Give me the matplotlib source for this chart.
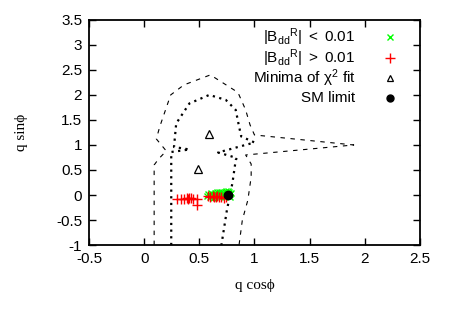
import numpy as np
import matplotlib
matplotlib.use('Agg')
import matplotlib.pyplot as plt

plt.rcParams['font.family'] = ['Liberation Sans', 'DejaVu Sans']
plt.rcParams['mathtext.fontset'] = 'custom'
plt.rcParams['mathtext.rm'] = 'Liberation Sans'
plt.rcParams['mathtext.it'] = 'Liberation Sans'
plt.rcParams['mathtext.default'] = 'regular'

### data
# outer contour (dashed)
outer_x = [0.09, 0.09, 0.13, 0.20, 0.11, 0.14, 0.24, 0.36, 0.60, 0.85, 0.92, 0.96, 1.00, 1.90,
           0.92, 0.97, 0.97, 0.94, 0.89, 0.86]
outer_y = [-1.0, 0.60, 0.72, 0.88, 1.12, 1.36, 2.00, 2.20, 2.40, 2.05, 1.70, 1.40, 1.20, 1.00,
           0.80, 0.62, 0.36, -0.10, -0.50, -1.0]
# inner contour (dotted)
inner_x = [0.245, 0.245, 0.41, 0.27, 0.29, 0.41, 0.59, 0.74, 0.83, 0.86, 0.88, 1.00,
           0.67, 0.84, 0.83, 0.80, 0.75, 0.70]
inner_y = [-1.0, 0.86, 0.91, 0.96, 1.43, 1.83, 2.00, 1.90, 1.70, 1.37, 1.17, 1.05,
           0.85, 0.74, 0.70, 0.24, -0.30, -1.0]

# |B_dd^R| < 0.01
small_x = [0.57, 0.58, 0.60, 0.61, 0.62, 0.63, 0.64, 0.65, 0.66, 0.67, 0.68, 0.69, 0.70,
           0.71, 0.72, 0.73, 0.74, 0.75, 0.76, 0.77, 0.78, 0.79, 0.62, 0.66, 0.70, 0.74, 0.78,
           0.64, 0.68, 0.72, 0.76]
small_y = [-0.01, 0.02, -0.03, 0.04, 0.01, -0.04, 0.05, 0.00, 0.03, -0.02, 0.06, 0.02, -0.03,
           0.04, 0.01, 0.06, -0.02, 0.05, 0.03, 0.07, 0.02, 0.05, -0.05, 0.06, 0.06, 0.08, -0.03,
           -0.01, 0.03, -0.04, 0.08]
# |B_dd^R| > 0.01
big_x = [0.30, 0.33, 0.36, 0.39, 0.40, 0.41, 0.42, 0.44, 0.48, 0.48,
         0.58, 0.60, 0.62, 0.63, 0.65, 0.66, 0.68, 0.70, 0.72, 0.74]
big_y = [-0.07, -0.07, -0.07, -0.06, -0.07, -0.05, -0.06, -0.07, -0.07, -0.19,
         -0.02, -0.03, -0.02, -0.04, -0.03, -0.02, -0.04, -0.03, -0.05, -0.03]

chi2_x = [0.59, 0.49]
chi2_y = [1.22, 0.51]
sm_x = [0.76]
sm_y = [0.0]

labels = [r'$|B_{dd}{}^{R}|\ <\ 0.01$', r'$|B_{dd}{}^{R}|\ >\ 0.01$',
          r'Minima of $\chi^2$ fit', 'SM limit']

fig = plt.figure(figsize=(4.5, 3.15), dpi=100)
ax = fig.add_axes([0.198, 0.222, 0.735, 0.715])

ax.plot(outer_x, outer_y, color='k', lw=0.8, ls=(0, (4, 5)))
ax.plot(inner_x, inner_y, color='k', lw=1.6, ls=(0, (1, 2)))
ax.plot(small_x, small_y, 'x', color='#00ff00', ms=5, mew=1)
ax.plot(big_x, big_y, '+', color='red', ms=7, mew=1)
ax.plot(chi2_x, chi2_y, '^', mfc='none', mec='k', ms=6, mew=0.9)
ax.plot(sm_x, sm_y, 'o', color='k', ms=6)

ax.set_xlim(-0.5, 2.5)
ax.set_ylim(-1, 3.5)
ax.set_xticks(np.arange(-0.5, 2.51, 0.5))
ax.set_yticks(np.arange(-1, 3.51, 0.5))
ax.set_xticklabels(['-0.5', '0', '0.5', '1', '1.5', '2', '2.5'])
ax.set_yticklabels(['-1', '-0.5', '0', '0.5', '1', '1.5', '2', '2.5', '3', '3.5'])
ax.tick_params(direction='in', top=True, right=True, length=5, width=1, labelsize=11, pad=5)
for s in ax.spines.values():
    s.set_linewidth(1.3)

ax.set_xlabel('q cosϕ', family=['Liberation Serif', 'DejaVu Serif'], fontsize=11, labelpad=9)
ax.set_ylabel('q sinϕ', family=['Liberation Serif', 'DejaVu Serif'], fontsize=11, labelpad=20)

# gnuplot style key: text right aligned, symbol on the right
key_y = [0.925, 0.83, 0.74, 0.655]
for k in range(4):
    ax.text(0.805, key_y[k], labels[k], transform=ax.transAxes, ha='right', va='center', fontsize=11)
ax.plot([0.91], [key_y[0]], 'x', color='#00ff00', ms=5, mew=1, transform=ax.transAxes)
ax.plot([0.91], [key_y[1]], '+', color='red', ms=7, mew=1, transform=ax.transAxes)
ax.plot([0.91], [key_y[2]], '^', mfc='none', mec='k', ms=5, mew=0.9, transform=ax.transAxes)
ax.plot([0.91], [key_y[3]], 'o', color='k', ms=5, transform=ax.transAxes)

fig.savefig('out.png', dpi=100)
